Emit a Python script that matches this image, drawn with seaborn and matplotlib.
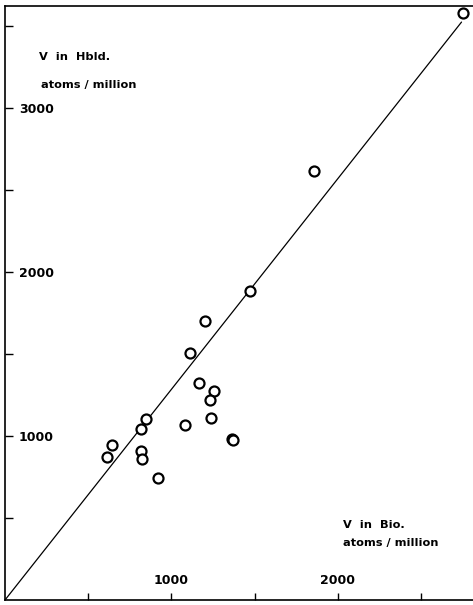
import matplotlib
matplotlib.use("Agg")
import matplotlib.pyplot as plt
import seaborn as sns
import pandas as pd

# Data (V in biotite vs V in hornblende, atoms/million)
bio_v = [2751, 1855, 1472, 1202, 1110, 1166, 1256, 1230, 1240, 1080,
         846, 819, 1362, 1372, 643, 613, 816, 822, 920]
hbld_v = [3579, 2618, 1885, 1702, 1505, 1326, 1275, 1218, 1108, 1069,
          1104, 1043, 984, 976, 948, 872, 911, 858, 742]
line_x = [0, 2744]
line_y = [0, 3525]
x_major = [1000, 2000]
y_major = [1000, 2000, 3000]
x_minor = [500, 1500, 2500]
y_minor = [500, 1500, 2500, 3500]

sns.set_theme(style="white")
plt.rcParams["font.family"] = ["DejaVu Sans"]

fig = plt.figure(figsize=(4.73, 6.05), dpi=100)
ax = fig.add_axes([5 / 473, 5 / 605, 468 / 473, 594 / 605])

df = pd.DataFrame({"bio": bio_v, "hbld": hbld_v})
dl = pd.DataFrame({"x": line_x, "y": line_y})

sns.lineplot(data=dl, x="x", y="y", ax=ax, color="black", linewidth=0.9, zorder=1)
sns.scatterplot(data=df, x="bio", y="hbld", ax=ax, s=52, facecolor="white",
                edgecolor="black", linewidth=1.6, zorder=3)

ax.set_xlim(0, 2813)
ax.set_ylim(0, 3623)
ax.set_xlabel("")
ax.set_ylabel("")

for side in ["left", "bottom", "top"]:
    ax.spines[side].set_visible(True)
    ax.spines[side].set_color("black")
    ax.spines[side].set_linewidth(1.2)
ax.spines["right"].set_visible(False)

ax.set_xticks(x_major)
ax.set_xticks(x_minor, minor=True)
ax.set_yticks(y_major)
ax.set_yticks(y_minor, minor=True)
ax.set_xticklabels([str(v) for v in x_major])
ax.set_yticklabels([str(v) for v in y_major])

ax.tick_params(axis="both", which="both", direction="in", color="black",
               labelcolor="black", width=1.0, bottom=True, left=True,
               top=False, right=False)
ax.tick_params(axis="x", which="both", length=5)
ax.tick_params(axis="y", which="both", length=6)
ax.tick_params(axis="x", which="major", pad=-19)
ax.tick_params(axis="y", which="major", pad=-10)
for lab in ax.get_yticklabels():
    lab.set_ha("left")
    lab.set_fontsize(9)
    lab.set_fontweight("bold")
    lab.set_color("black")
for lab in ax.get_xticklabels():
    lab.set_fontsize(9)
    lab.set_fontweight("bold")
    lab.set_color("black")

tkw = dict(transform=fig.transFigure, fontsize=8.2, fontweight="bold",
           ha="left", va="center", color="black")
fig.text(39 / 473, 1 - 57 / 605, "V  in  Hbld.", **tkw)
fig.text(41 / 473, 1 - 85 / 605, "atoms / million", **tkw)
fig.text(343 / 473, 1 - 525 / 605, "V  in  Bio.", **tkw)
fig.text(343 / 473, 1 - 543 / 605, "atoms / million", **tkw)

fig.savefig("out.png", dpi=100)
